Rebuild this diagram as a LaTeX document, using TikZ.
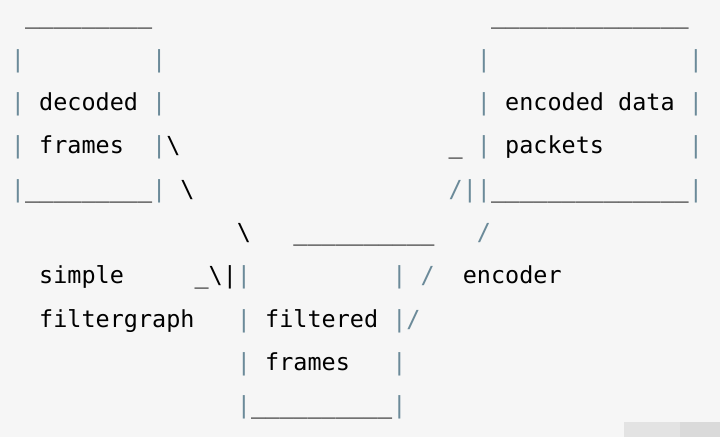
\documentclass[tikz,border=0pt]{standalone}
\usepackage{fontspec}
\newfontfamily\codefont{DejaVu Sans Mono}
\definecolor{codebg}{HTML}{F6F6F6}
\definecolor{barcol}{HTML}{6B8A99}
\definecolor{markA}{HTML}{E3E3E3}
\definecolor{markB}{HTML}{DADADA}
\tikzset{
  txt/.style={anchor=base west, inner sep=0pt, outer sep=0pt,
    font=\fontsize{23.45}{28}\selectfont\codefont, text=black},
  bar/.style={txt, text=barcol}
}
\begin{document}
\begin{tikzpicture}[x=14.12pt, y=-43.3pt]
      \fill[codebg] (-0.779,-0.554) rectangle (50.21,9.538);
      \fill[markA] (43.41,9.19) rectangle (47.4,9.538);
      \fill[markB] (47.4,9.19) rectangle (50.21,9.538);
      % decoded frames
      \draw
        (1,0) node[txt] (dtop) {\_\_\_\_\_\_\_\_\_}
        (0,1) node[bar] (dl1) {\textbar}
        (10,1) node[bar] (dr1) {\textbar}
        (0,2) node[bar] (dl2) {\textbar}
        (2,2) node[txt] (dec) {decoded}
        (10,2) node[bar] (dr2) {\textbar}
        (0,3) node[bar] (dl3) {\textbar}
        (2,3) node[txt] (dfr) {frames}
        (10,3) node[bar] (dr3) {\textbar}
        (0,4) node[bar] (dl4) {\textbar}
        (1,4) node[txt] (dbot) {\_\_\_\_\_\_\_\_\_}
        (10,4) node[bar] (dr4) {\textbar};
      % encoded data packets
      \draw
        (34,0) node[txt] (etop) {\_\_\_\_\_\_\_\_\_\_\_\_\_\_}
        (33,1) node[bar] (el1) {\textbar}
        (48,1) node[bar] (er1) {\textbar}
        (33,2) node[bar] (el2) {\textbar}
        (35,2) node[txt] (enc) {encoded}
        (43,2) node[txt] (dat) {data}
        (48,2) node[bar] (er2) {\textbar}
        (33,3) node[bar] (el3) {\textbar}
        (35,3) node[txt] (pkt) {packets}
        (48,3) node[bar] (er3) {\textbar}
        (32,4) node[bar] (el4a) {\textbar}
        (33,4) node[bar] (el4) {\textbar}
        (34,4) node[txt] (ebot) {\_\_\_\_\_\_\_\_\_\_\_\_\_\_}
        (48,4) node[bar] (er4) {\textbar};
      % filtered frames
      \draw
        (20,5) node[txt] (ftop) {\_\_\_\_\_\_\_\_\_\_}
        (16,6) node[bar] (fl1) {\textbar}
        (27,6) node[bar] (fr1) {\textbar}
        (16,7) node[bar] (fl2) {\textbar}
        (18,7) node[txt] (fil) {filtered}
        (27,7) node[bar] (fr2) {\textbar}
        (16,8) node[bar] (fl3) {\textbar}
        (18,8) node[txt] (ffr) {frames}
        (27,8) node[bar] (fr3) {\textbar}
        (16,9) node[bar] (fl4) {\textbar}
        (17,9) node[txt] (fbot) {\_\_\_\_\_\_\_\_\_\_}
        (27,9) node[bar] (fr4) {\textbar};
      % simple filtergraph
      \draw
        (11,3) node[txt] (sa) {\textbackslash}
        (12,4) node[txt] (sb) {\textbackslash}
        (16,5) node[txt] (sc) {\textbackslash}
        (13,6) node[txt] (sd) {\_\textbackslash\textbar}
        (2,6) node[txt] (sim) {simple}
        (2,7) node[txt] (fg) {filtergraph};
      % encoder
      \draw
        (28,7) node[bar] (ea) {/}
        (29,6) node[bar] (eb) {/}
        (33,5) node[bar] (ec) {/}
        (31,4) node[bar] (ed) {/}
        (31,3) node[txt] (ee) {\_}
        (32,6) node[txt] (eco) {encoder};
    \end{tikzpicture}
\end{document}
